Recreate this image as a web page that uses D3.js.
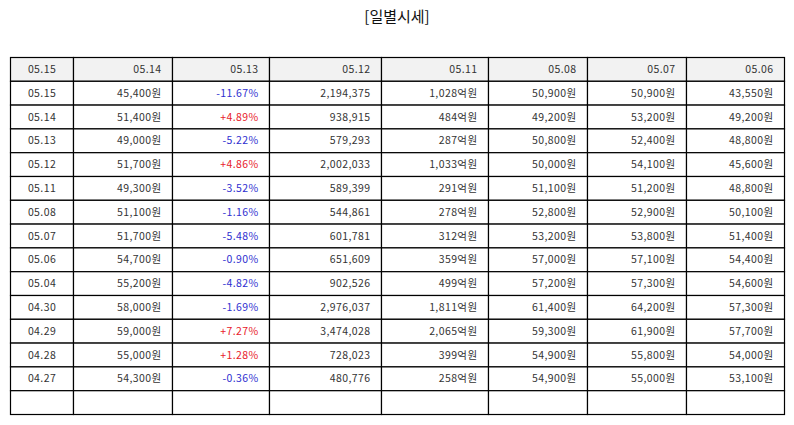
<!DOCTYPE html>
<html>
<head>
<meta charset="utf-8">
<script src="https://cdn.jsdelivr.net/npm/d3@7"></script>
<style>
  body { margin: 0; background: #fff; }
  svg text { font-family: "Noto Sans CJK KR", "Noto Sans", sans-serif; }
</style>
</head>
<body>
<svg id="chart" width="794" height="425"></svg>
<script>
'use strict';

// Data
const title = '[일별시세]';
const headers = ['05.15', '05.14', '05.13', '05.12', '05.11', '05.08', '05.07', '05.06'];
const dates = ['05.15', '05.14', '05.13', '05.12', '05.11', '05.08', '05.07', '05.06',
  '05.04', '04.30', '04.29', '04.28', '04.27'];
const closes = [45400, 51400, 49000, 51700, 49300, 51100, 51700, 54700, 55200, 58000, 59000, 55000, 54300];
const changes = [-11.67, 4.89, -5.22, 4.86, -3.52, -1.16, -5.48, -0.90, -4.82, -1.69, 7.27, 1.28, -0.36];
const volumes = [2194375, 938915, 579293, 2002033, 589399, 544861, 601781, 651609, 902526,
  2976037, 3474028, 728023, 480776];
const amounts = [1028, 484, 287, 1033, 291, 278, 312, 359, 499, 1811, 2065, 399, 258];
const opens = [50900, 49200, 50800, 50000, 51100, 52800, 53200, 57000, 57200, 61400, 59300, 54900, 54900];
const highs = [50900, 53200, 52400, 54100, 51200, 52900, 53800, 57100, 57300, 64200, 61900, 55800, 55000];
const lows = [43550, 49200, 48800, 45600, 48800, 50100, 51400, 54400, 54600, 57300, 57700, 54000, 53100];

const won = d3.format(',');
const pct = v => (v > 0 ? '+' : '') + v.toFixed(2) + '%';

// Layout
const TABLE_LEFT = 10.5;
const TABLE_TOP = 57.5;
const ROW_H = 23.8;
const COL_WIDTHS = [63, 99, 97, 112, 107, 99, 99, 98];
const PAD = 11;

const svg = d3.select('#chart');

svg.append('text')
  .attr('x', 397)
  .attr('y', 22)
  .attr('text-anchor', 'middle')
  .attr('font-size', 15)
  .attr('fill', '#111')
  .text(title);

const rows = dates.map((d, i) => [
  { text: d },
  { text: won(closes[i]) + '원' },
  { text: pct(changes[i]), color: changes[i] > 0 ? '#e8202a' : '#2f2fd0' },
  { text: won(volumes[i]) },
  { text: won(amounts[i]) + '억원' },
  { text: won(opens[i]) + '원' },
  { text: won(highs[i]) + '원' },
  { text: won(lows[i]) + '원' }
]);
rows.unshift(headers.map(h => ({ text: h, header: true })));
rows.push(headers.map(() => ({ text: '' })));

// column edges, cumulative
const colEdges = d3.cumsum([0].concat(COL_WIDTHS));
const colX = i => TABLE_LEFT + colEdges[i];

const y = d3.scaleBand()
  .domain(d3.range(rows.length))
  .range([TABLE_TOP, TABLE_TOP + ROW_H * rows.length]);

const rowG = svg.append('g')
  .attr('class', 'rows')
  .selectAll('g')
  .data(rows)
  .join('g')
    .attr('transform', (d, i) => 'translate(0,' + y(i) + ')');

const cells = rowG.selectAll('g')
  .data(d => d.map((c, j) => Object.assign({ col: j }, c)))
  .join('g');

cells.append('rect')
  .attr('x', d => colX(d.col))
  .attr('y', 0)
  .attr('width', d => COL_WIDTHS[d.col])
  .attr('height', y.bandwidth())
  .attr('fill', d => d.header ? '#f2f2f2' : '#fff')
  .attr('stroke', '#000')
  .attr('stroke-width', 1.2);

cells.append('text')
  .attr('x', d => d.col === 0 ? colX(d.col) + COL_WIDTHS[d.col] / 2 : colX(d.col + 1) - PAD)
  .attr('y', y.bandwidth() / 2)
  .attr('dy', '0.35em')
  .attr('text-anchor', d => d.col === 0 ? 'middle' : 'end')
  .attr('font-size', 10.5)
  .attr('letter-spacing', 0.4)
  .attr('fill', d => d.color || '#333')
  .text(d => d.text);
</script>
</body>
</html>
